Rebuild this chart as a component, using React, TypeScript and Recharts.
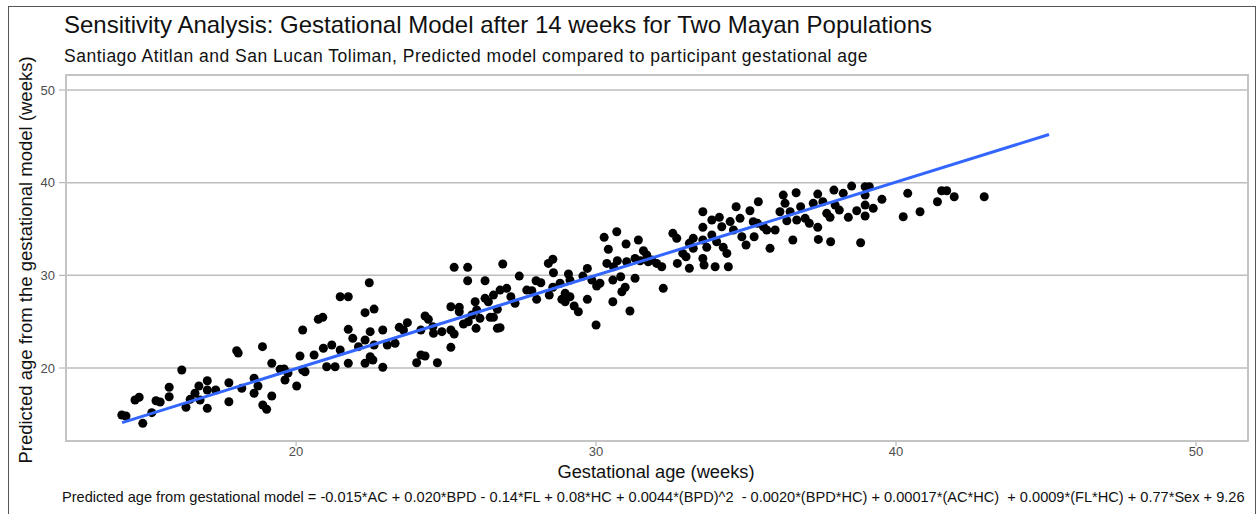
import React from "react";
import {
  ScatterChart,
  Scatter,
  XAxis,
  YAxis,
  CartesianGrid,
} from "recharts";

// Gestational age (weeks) of participants
const gestAge: number[] = [
  14.19, 14.33, 14.89, 14.63, 14.77, 15.19, 15.33, 15.47, 15.77, 15.77,
  16.19, 16.33, 16.47, 16.63, 16.76, 16.8, 17.04, 17.04, 17.04, 17.32,
  17.76, 17.76, 18.02, 18.07, 18.19, 18.6, 18.6, 18.73, 18.88, 18.89,
  19.02, 19.19, 19.19, 19.47, 19.6, 19.63, 19.73, 20.02,
  20.22, 20.13, 20.22, 20.3, 20.6, 20.74, 20.89, 20.91, 21.02, 21.19,
  21.3, 21.47, 21.74, 21.47, 21.74, 21.74, 21.89, 22.08, 22.3, 22.3,
  22.3, 22.44, 22.47, 22.47, 22.56, 22.6, 22.6, 22.89, 22.89, 23.04,
  23.3, 23.44, 23.58, 23.71, 24.02, 24.16, 24.3, 24.16, 24.3, 24.41,
  24.56, 24.58, 24.86, 24.71, 25.16, 25.16, 25.16, 25.27, 25.27, 25.72,
  25.72, 25.44, 25.44, 25.58, 25.74, 25.86, 25.97, 26.02, 26.13, 26.0,
  26.3, 26.3, 26.41, 26.47, 26.58, 26.58, 26.71, 26.71,
  26.89, 26.8, 26.8, 27.02, 27.16, 27.3, 27.44, 27.69, 27.86, 28.0,
  28.02, 28.16, 28.41, 28.56, 28.58, 28.44, 28.56, 28.8, 28.86, 28.97,
  28.97, 29.08, 29.13, 29.13, 29.27, 29.41, 29.56, 29.71, 29.71, 29.86,
  30.02, 30.0, 30.13, 30.27, 30.41, 30.36, 30.58, 30.56, 30.56, 30.69,
  30.71, 30.82, 30.86, 30.97, 31.0, 31.02, 31.13, 31.3, 31.3, 31.41,
  31.47, 31.58, 31.69, 31.74,
  31.86, 32.02, 32.19, 32.24, 32.56, 32.69, 32.71, 32.89, 33.0, 33.11,
  33.11, 33.24, 33.24, 33.56, 33.56, 33.56, 33.56, 33.6, 33.69, 33.86,
  33.86, 33.97, 34.02, 34.11, 34.19, 34.24, 34.36, 34.41, 34.47, 34.58,
  34.67, 34.8, 34.86, 35.0, 35.13, 35.24, 35.27, 35.41, 35.38, 35.58,
  35.69, 35.8, 35.97, 36.13, 36.24, 36.3, 36.36, 36.47, 36.56, 36.67,
  36.69, 36.82, 36.97, 37.11, 37.24, 37.39, 37.39, 37.41, 37.56, 37.69,
  37.8, 37.82, 37.93, 37.97, 38.11, 38.24, 38.41,
  38.52, 38.97, 39.11, 38.97, 38.69, 38.97, 38.97, 39.24, 39.53, 38.82,
  40.24, 40.39, 40.8, 41.38, 41.52, 41.69, 41.94, 42.94,
];

// Predicted age from the gestational model (weeks)
const predictedAge: number[] = [
  14.93, 14.82, 14.03, 16.55, 16.84, 15.18, 16.47, 16.33, 17.92, 16.9,
  19.78, 15.76, 16.62, 17.27, 18.06, 16.55, 18.63, 17.63, 15.65, 17.63,
  18.41, 16.36, 21.87, 21.62, 17.81, 18.89, 17.27, 18.06, 22.3, 16.01,
  15.54, 20.51, 16.98, 19.86, 19.89, 18.71, 19.46, 18.06,
  24.1, 21.29, 19.78, 19.6, 21.4, 25.25, 25.47, 22.13, 20.14, 22.48,
  20.14, 27.69, 27.69, 21.94, 24.17, 20.51, 23.2, 22.3, 25.97, 23.02,
  20.51, 29.2, 23.92, 21.22, 20.86, 26.36, 22.48, 24.1, 20.08, 22.48,
  22.66, 24.39, 24.1, 24.89, 20.57, 21.4, 21.29, 24.1, 25.61, 25.25,
  24.46, 23.74, 23.92, 20.57, 26.61, 24.1, 22.23, 23.67, 30.86, 30.86,
  29.42, 26.55, 26.07, 24.75, 24.99, 25.72, 27.15, 26.26, 25.36, 24.28,
  29.42, 27.52, 27.15, 25.47, 25.47, 27.87, 26.33, 24.28,
  31.22, 28.41, 24.35, 28.6, 27.69, 26.98, 29.92, 28.41, 28.34, 29.42,
  27.41, 29.2, 31.29, 31.73, 30.28, 27.87, 28.71, 29.14, 27.41, 28.06,
  27.15, 30.14, 29.49, 27.69, 26.69, 26.07, 29.92, 30.75, 27.41, 29.49,
  28.85, 24.64, 29.14, 34.1, 32.81, 31.29, 30.93, 29.49, 27.15, 34.7,
  31.57, 29.85, 28.23, 28.71, 33.38, 31.47, 26.15, 31.83, 29.68, 33.81,
  31.57, 32.65, 32.19, 31.47,
  31.65, 31.29, 30.93, 28.6, 34.53, 33.99, 31.29, 32.37, 32.01, 30.76,
  33.45, 33.99, 32.91, 36.86, 35.18, 33.81, 31.83, 31.11, 33.02, 35.97,
  34.35, 30.93, 33.62, 36.26, 35.24, 33.02, 32.37, 30.93, 35.8, 34.89,
  37.4, 36.15, 34.16, 33.27, 36.97, 35.78, 34.16, 37.94, 35.61, 35.24,
  34.89, 32.91, 34.89, 36.86, 38.66, 37.77, 35.89, 36.86, 33.81, 38.91,
  35.97, 37.4, 36.15, 35.61, 37.77, 38.77, 35.18, 33.88, 37.94, 36.69,
  36.26, 33.62, 39.2, 37.58, 37.04, 38.85, 36.26,
  39.63, 39.56, 39.56, 38.66, 36.97, 37.58, 36.4, 37.23, 38.2, 33.52,
  36.32, 38.85, 36.86, 37.94, 39.13, 39.13, 38.48, 38.48,
];

// Fitted regression line end points
const fitX: number[] = [14.2, 45.1];
const fitY: number[] = [14.1, 45.2];

const xTicks: number[] = [20, 30, 40, 50];
const yTicks: number[] = [20, 30, 40, 50];

const titleText =
  "Sensitivity Analysis: Gestational Model after 14 weeks for Two Mayan Populations";
const subtitleText =
  "Santiago Atitlan and San Lucan Toliman, Predicted model compared to participant gestational age";
const xLabel = "Gestational age (weeks)";
const yLabel = "Predicted age from the gestational model (weeks)";
const caption =
  "Predicted age from gestational model = -0.015*AC + 0.020*BPD - 0.14*FL + 0.08*HC + 0.0044*(BPD)^2  - 0.0020*(BPD*HC) + 0.00017*(AC*HC)  + 0.0009*(FL*HC) + 0.77*Sex + 9.26";

const points = gestAge.map((x, i) => ({ x, y: predictedAge[i] }));
const fitLine = fitX.map((x, i) => ({ x, y: fitY[i] }));

const FONT = "'Liberation Sans', Arial, Helvetica, sans-serif";
const GRID = "#bdbdbd";

const Dot = (props: any) => {
  const { cx, cy } = props;
  if (cx == null || cy == null) return <g />;
  return <circle cx={cx} cy={cy} r={4.5} fill="#000" />;
};

export default function App() {
  return (
    <div
      style={{
        position: "absolute",
        left: 0,
        top: 0,
        width: 1258,
        height: 514,
        background: "#fff",
        overflow: "hidden",
        fontFamily: FONT,
      }}
    >
      <div
        style={{
          position: "absolute",
          left: 8,
          top: 6,
          width: 1246,
          height: 520,
          borderLeft: "1px solid #555",
          borderTop: "1px solid #555",
          borderRight: "1px solid #555",
        }}
      />
      <ScatterChart
        width={1258}
        height={514}
        margin={{ top: 75, right: 11, bottom: 44, left: 0 }}
        style={{ position: "absolute", left: 0, top: 0 }}
      >
        <CartesianGrid
          vertical={false}
          stroke={GRID}
          strokeWidth={1.5}
          horizontalValues={yTicks}
        />
        <XAxis
          type="number"
          dataKey="x"
          domain={[12.33, 51.7]}
          ticks={xTicks}
          allowDataOverflow
          height={30}
          axisLine={false}
          tickSize={6}
          tickMargin={1}
          tick={{ fill: "#4d4d4d", fontSize: 13, fontFamily: FONT }}
          tickLine={{ stroke: "#aaa", strokeWidth: 1 }}
        />
        <YAxis
          type="number"
          dataKey="y"
          domain={[12.23, 51.62]}
          ticks={yTicks}
          allowDataOverflow
          width={66}
          axisLine={false}
          tickSize={7}
          tickMargin={4}
          tick={{ fill: "#4d4d4d", fontSize: 13, fontFamily: FONT }}
          tickLine={{ stroke: "#aaa", strokeWidth: 1 }}
        />
        <Scatter data={points} shape={Dot} isAnimationActive={false} />
        <Scatter
          data={fitLine}
          line={{ stroke: "#3366FF", strokeWidth: 3 }}
          shape={() => <g />}
          isAnimationActive={false}
        />
      </ScatterChart>
      <div
        style={{
          position: "absolute",
          left: 65,
          top: 74,
          width: 1180,
          height: 364,
          border: "2px solid #c4c4c4",
          pointerEvents: "none",
        }}
      />
      <div
        style={{
          position: "absolute",
          left: 64,
          top: 10,
          fontSize: 24,
          lineHeight: "30px",
          color: "#111",
          whiteSpace: "pre",
        }}
      >
        {titleText}
      </div>
      <div
        style={{
          position: "absolute",
          left: 64,
          top: 45,
          fontSize: 17.5,
          letterSpacing: 0.5,
          lineHeight: "22px",
          color: "#111",
          whiteSpace: "pre",
        }}
      >
        {subtitleText}
      </div>
      <div
        style={{
          position: "absolute",
          left: 26,
          top: 260,
          transform: "translate(-50%, -50%) rotate(-90deg)",
          fontSize: 18.5,
          lineHeight: "22px",
          color: "#111",
          whiteSpace: "pre",
        }}
      >
        {yLabel}
      </div>
      <div
        style={{
          position: "absolute",
          left: 656,
          top: 472,
          transform: "translate(-50%, -50%)",
          fontSize: 18.3,
          lineHeight: "18px",
          color: "#111",
          whiteSpace: "pre",
        }}
      >
        {xLabel}
      </div>
      <div
        style={{
          position: "absolute",
          left: 62,
          top: 488,
          fontSize: 14.6,
          lineHeight: "18px",
          color: "#111",
          whiteSpace: "pre",
        }}
      >
        {caption}
      </div>
    </div>
  );
}
